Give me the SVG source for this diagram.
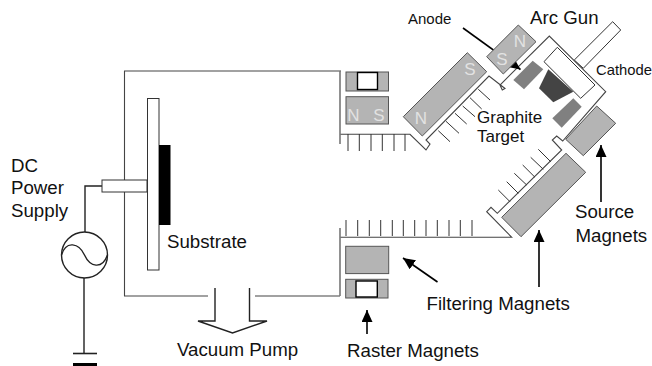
<svg xmlns="http://www.w3.org/2000/svg" width="652" height="366" viewBox="0 0 652 366">
<defs>
<marker id="ah" markerUnits="userSpaceOnUse" markerWidth="13" markerHeight="13" refX="12" refY="5.500" orient="auto"><path d="M0 0L12 5.500L0 11Z" fill="#000"/></marker>
</defs>
<style>
text{font-family:"Liberation Sans",Arial,sans-serif;fill:#111;font-size:18.7px}
.wall{fill:none;stroke:#444;stroke-width:1.1}
.side{fill:none;stroke:#777;stroke-width:1.6}
.tooth{fill:none;stroke:#333;stroke-width:1}
.mag{fill:#b4b4b4;stroke:#555;stroke-width:1}
.pole{fill:#e2e2e2;font-size:17px;text-anchor:middle}
.wh{fill:#fff;stroke:#333;stroke-width:1}
.win{fill:#fff;stroke:#000;stroke-width:1.4}
.arr{fill:none;stroke:#000;stroke-width:1.6;marker-end:url(#ah)}
.wire{fill:none;stroke:#222;stroke-width:1.4}
</style>
<rect width="652" height="366" fill="#fff"/>
<g id="connectors">
<path class="wall" d="M341 71H124.500V296H208M255 296H340M340 237.300H511.700L486.700 211.700L491 207.300L497.300 213.300L561.700 150L552.300 140L556.700 136L562.700 141L605.700 91.700L549.300 36L500 85L502.300 90L505 88.500L489 76L426 140L430 144L426 150L410 134.300H340"/>
<path class="side" d="M340 71V144M340 228V296"/>
<path class="tooth" d="M348 134V151M359.300 134V151M371 134V151M382.300 134V151M394 134V151M405 134V151M438.300 130.700L450 141.700M446 121.300L459 133.300M455 113.300L466.700 124M462.700 106L475 116.700M470 97.700L481.700 109M478.300 89.300L490 100M346 220V236M357.700 220V236M369.300 220V236M380.700 220V236M392.300 220V236M403.300 220V236M414.700 220V236M426 220V236M437.300 220V236M449 220V236M460.300 220V236M472 220V236M510 201.700L498.300 190M518.300 193.300L506.700 181.700M526.700 185L514.300 173.300M535 177.300L522.700 165M543.300 169.300L530.700 157.300M550.700 161.700L538.300 149.300"/>
<path class="arr" d="M463 28L520.500 69.500"/>
<path class="arr" d="M601 202V145"/>
<path class="arr" d="M539 287V230"/>
<path class="arr" d="M437.500 282L403 258"/>
<path class="arr" d="M367 334V310"/>
<path class="wire" d="M102 186H85V233M84 278V353"/>
</g>
<g id="holder"><rect class="wh" x="147.500" y="98.500" width="11.500" height="171.500"/></g>
<g id="stem"><rect class="wh" x="102" y="180" width="45" height="12"/></g>
<g id="substrate"><rect x="159" y="145" width="11.500" height="80" fill="#000"/><text x="167" y="248">Substrate</text></g>
<g id="power-supply"><circle cx="84.500" cy="255" r="23" fill="#fff" stroke="#222" stroke-width="1.400"/><path class="wire" d="M61.500 255C66 240 79 243 84.500 255S102 270 107.500 255"/><text x="11" y="172">DC</text><text x="11" y="194">Power</text><text x="11" y="217">Supply</text></g>
<g id="ground"><path d="M73 353.500H97" stroke="#222" stroke-width="1.600"/><rect x="73" y="363" width="24" height="3" fill="#000"/></g>
<g id="vacuum-pump"><path class="wire" d="M215 288V321H198L232.500 333L267 321H249.500V288"/><text x="177" y="356">Vacuum Pump</text></g>
<g id="raster-top"><rect class="mag" x="346" y="72" width="42.500" height="19"/><rect class="win" x="357.500" y="72.500" width="20" height="17"/><rect class="mag" x="346" y="96.700" width="42.500" height="27.300"/><text class="pole" x="353.500" y="121">N</text><text class="pole" x="379" y="121">S</text></g>
<g id="raster-bottom"><rect class="mag" x="345.700" y="246.300" width="43" height="27.300"/><rect class="mag" x="345.700" y="279.300" width="42.300" height="18.700"/><rect class="win" x="356" y="281" width="21.300" height="16"/><text x="347" y="357">Raster Magnets</text></g>
<g id="filter-magnet-upper"><path class="mag" d="M403.300 116.700L467.300 52.700L486.700 71.700L422.300 136Z"/><text class="pole" x="470" y="75">S</text><text class="pole" x="421" y="124">N</text></g>
<g id="source-magnet-upper"><path class="mag" d="M486.700 56.700L518.300 25L536 41.700L503.300 74Z"/><text class="pole" x="520" y="47">N</text><text class="pole" x="502" y="65">S</text></g>
<g id="filter-magnet-lower"><path class="mag" d="M501.700 217.300L566 153.300L585.700 172.300L521 236.700Z"/></g>
<g id="source-magnet-lower"><path class="mag" d="M565.700 139.300L596.700 106L615.700 123.300L583.300 155.700Z"/></g>
<g id="arc-gun"><path class="wh" d="M574.300 60L612.700 21.700L620.700 30L583.300 68.300Z"/><path class="wh" d="M544 61.700L557.300 47.300L595 85L580.700 98.300Z"/><path d="M548.300 69.300L573.300 91.700L553.300 102.300L539 88.300Z" fill="#444"/><text x="530" y="24">Arc Gun</text><text x="596" y="75" style="font-size:14.800px">Cathode</text></g>
<g id="anode"><path d="M513.300 80L532.700 60.700L543.300 69.300L524 89.300Z" fill="#808080"/><path d="M552.300 118.300L573.300 98.300L581.700 106.700L561.700 127.700Z" fill="#808080"/><text x="408" y="24" style="font-size:15px">Anode</text></g>
<g id="labels"><text x="477" y="123" style="font-size:17px">Graphite</text><text x="477" y="142" style="font-size:17px">Target</text><text x="575" y="218">Source</text><text x="575.500" y="242">Magnets</text><text x="426.500" y="310">Filtering Magnets</text></g>
</svg>
